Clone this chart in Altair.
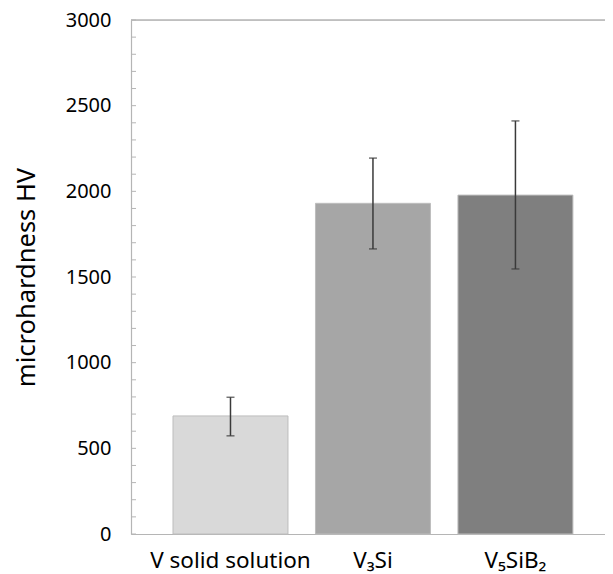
import altair as alt
import pandas as pd

categories = ["V solid solution", "V\u2083Si", "V\u2085SiB\u2082"]
hardness = [689, 1930, 1978]
err_low = [573, 1664, 1547]
err_high = [798, 2194, 2411]
bar_colors = ["#d9d9d9", "#a6a6a6", "#7f7f7f"]
y_ticks = [0, 500, 1000, 1500, 2000, 2500, 3000]
minor_ticks = list(range(0, 3001, 100))

df = pd.DataFrame({
    "phase": categories,
    "hv": hardness,
    "lo": err_low,
    "hi": err_high,
    "color": bar_colors,
})
ticks_df = pd.DataFrame({"t": minor_ticks})

W, H = 474, 514
FONT = "Noto Sans"

xscale = alt.Scale(domain=categories, paddingInner=0.193, paddingOuter=0.26, align=0.567)
yscale = alt.Scale(domain=[0, 3000], nice=False)

x_enc = alt.X("phase:N", scale=xscale, sort=categories,
              axis=alt.Axis(title=None, labelAngle=0, labelFontSize=22.5, labelFont=FONT,
                            labelColor="#000000", ticks=False, labelPadding=15,
                            domainColor="#b5b5b5", domainWidth=1.2))

bars = alt.Chart(df).mark_bar(stroke="#bdbdbd", strokeWidth=1).encode(
    x=x_enc,
    y=alt.Y("hv:Q", scale=yscale,
            axis=alt.Axis(title="microhardness HV", values=y_ticks, ticks=False, format="d",
                          labelFontSize=20, labelFont=FONT, labelColor="#000000",
                          labelPadding=20, titleFontSize=25.5, titleFont=FONT,
                          titleFontWeight="normal", titleColor="#000000", titlePadding=26,
                          domainColor="#b5b5b5", domainWidth=1.2, grid=False)),
    color=alt.Color("color:N", scale=None),
)

err = alt.Chart(df).mark_rule(color="#3a3a3a", strokeWidth=1.5).encode(
    x=alt.X("phase:N", scale=xscale, sort=categories),
    y=alt.Y("lo:Q", scale=yscale),
    y2="hi:Q",
)
cap_lo = alt.Chart(df).mark_tick(color="#3a3a3a", thickness=1.5, size=8).encode(
    x=alt.X("phase:N", scale=xscale, sort=categories),
    y=alt.Y("lo:Q", scale=yscale),
)
cap_hi = alt.Chart(df).mark_tick(color="#3a3a3a", thickness=1.5, size=8).encode(
    x=alt.X("phase:N", scale=xscale, sort=categories),
    y=alt.Y("hi:Q", scale=yscale),
)

minor = alt.Chart(ticks_df).mark_rule(color="#b5b5b5", strokeWidth=1).encode(
    y=alt.Y("t:Q", scale=yscale),
    x=alt.value(0),
    x2=alt.value(5),
)

top_line = alt.Chart(pd.DataFrame({"t": [3000]})).mark_rule(color="#b5b5b5", strokeWidth=1.5).encode(
    y=alt.Y("t:Q", scale=yscale),
    x=alt.value(0),
    x2=alt.value(W),
)

chart = alt.layer(bars, err, cap_lo, cap_hi, minor, top_line).properties(
    width=W, height=H,
    autosize=alt.AutoSizeParams(type="none"),
    padding={"left": 123, "top": 12, "right": 0, "bottom": 40},
).configure_view(stroke=None).configure(background="white")

chart.save("out.html", embed_options={"renderer": "svg", "actions": False})
